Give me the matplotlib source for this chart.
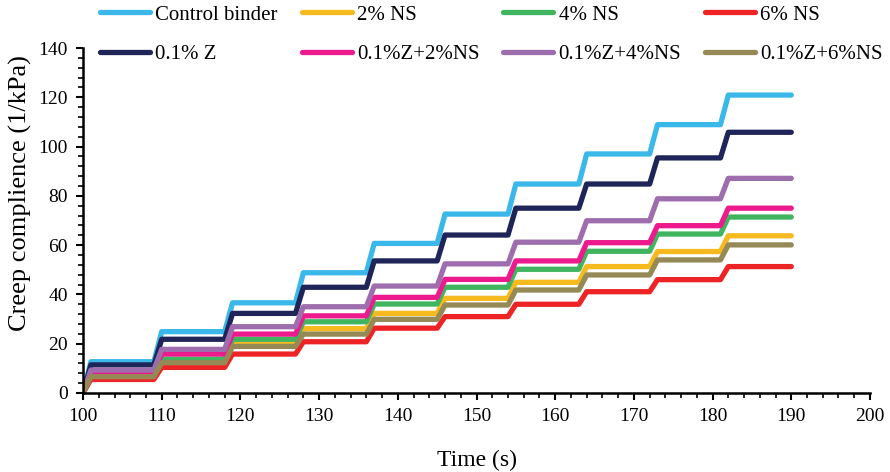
import matplotlib
matplotlib.use("Agg")
import matplotlib.pyplot as plt
from matplotlib.ticker import MultipleLocator

plt.rcParams["font.family"] = ["Liberation Serif", "DejaVu Serif"]

# start of each loading (creep) period and end of each recovery period, s
creep_start = [100, 109, 118, 127, 136, 145, 154, 163, 172, 181]
creep_end = [101, 110, 119, 128, 137, 146, 155, 164, 173, 182]
recovery_end = [109, 118, 127, 136, 145, 154, 163, 172, 181, 190]

# creep compliance at end of each cycle, 1/kPa
control_binder = [12.7, 24.9, 36.6, 48.8, 60.7, 72.6, 84.8, 97.0, 108.9, 120.9]
ns_2 = [6.6, 13.0, 19.9, 26.1, 32.3, 38.4, 44.9, 51.3, 57.4, 63.8]
ns_4 = [7.2, 13.7, 21.8, 28.9, 36.1, 42.9, 50.2, 57.5, 64.5, 71.4]
ns_6 = [5.5, 10.4, 15.8, 20.8, 26.3, 31.0, 36.0, 41.1, 46.0, 51.3]
z_01 = [11.4, 21.8, 32.3, 42.9, 53.6, 64.1, 75.0, 84.8, 95.4, 105.8]
z_ns_2 = [8.2, 15.8, 23.9, 31.3, 38.8, 46.1, 53.6, 61.0, 67.9, 75.0]
z_ns_4 = [9.3, 17.7, 26.9, 35.0, 43.4, 52.4, 61.2, 69.9, 78.8, 87.1]
z_ns_6 = [6.6, 12.3, 18.9, 23.9, 29.9, 35.7, 41.8, 47.9, 54.0, 60.1]

series = [
    ("Control binder", control_binder, "#3BB8EA"),
    ("2% NS", ns_2, "#F6BA1F"),
    ("4% NS", ns_4, "#3FB55F"),
    ("6% NS", ns_6, "#EE2326"),
    ("0.1% Z", z_01, "#1F2558"),
    ("0.1%Z+2%NS", z_ns_2, "#EC1A8C"),
    ("0.1%Z+4%NS", z_ns_4, "#9E6DAD"),
    ("0.1%Z+6%NS", z_ns_6, "#958A55"),
]


def staircase(levels):
    xs, ys = [], []
    prev = 0.0
    for t0, t1, t2, lv in zip(creep_start, creep_end, recovery_end, levels):
        xs += [t0, t1, t2]
        ys += [prev, lv, lv]
        prev = lv
    return xs, ys


fig = plt.figure(figsize=(8.9, 4.72), dpi=100)
ax = fig.add_axes([0.0933, 0.1674, 0.8842, 0.7309])

handles = []
for name, vals, color in series:
    xs, ys = staircase(vals)
    h, = ax.plot(xs, ys, color=color, lw=3.8, label=name,
                 solid_capstyle="round", solid_joinstyle="round")
    handles.append(h)

ax.set_xlim(100, 200)
ax.set_ylim(0, 140)
ax.xaxis.set_major_locator(MultipleLocator(10))
ax.xaxis.set_minor_locator(MultipleLocator(2))
ax.yaxis.set_major_locator(MultipleLocator(20))
ax.yaxis.set_minor_locator(MultipleLocator(4))
ax.tick_params(which="major", direction="out", length=5, width=1.5, labelsize=14, pad=6)
ax.tick_params(which="minor", direction="out", length=3.5, width=1.2)
for side in ("top", "right"):
    ax.spines[side].set_visible(False)
for side in ("left", "bottom"):
    ax.spines[side].set_linewidth(1.8)

ax.set_xlabel("Time (s)", fontsize=17, labelpad=18)
ax.set_ylabel("Creep complience (1/kPa)", fontsize=19)
ax.yaxis.set_label_coords(-0.065, 0.58)

# legend is filled row by row in the reference, matplotlib fills columns
order = [0, 4, 1, 5, 2, 6, 3, 7]
fig.legend([handles[i] for i in order], [series[i][0] for i in order],
           loc="upper left", bbox_to_anchor=(100 / 890, 1 - 5 / 472), ncol=4,
           frameon=False, fontsize=15, handlelength=2.4, handletextpad=0.25,
           columnspacing=1.15, labelspacing=0.95, borderpad=0, borderaxespad=0)

fig.savefig("out.png", dpi=100)
